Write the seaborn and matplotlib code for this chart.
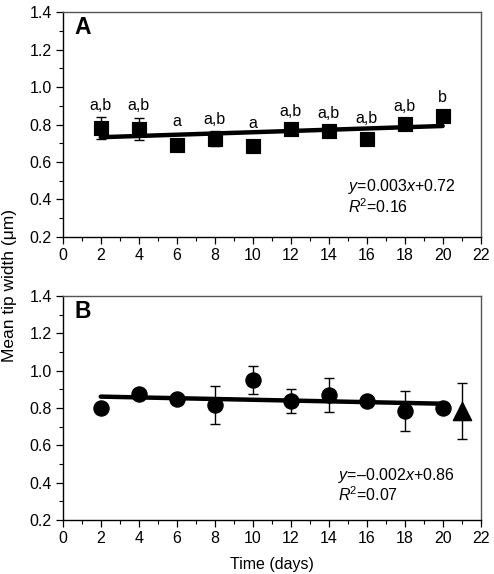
import matplotlib
matplotlib.use("Agg")
import matplotlib.pyplot as plt
import seaborn as sns
import numpy as np
import pandas as pd
from matplotlib.ticker import MultipleLocator

# ---- data ----
days = [2, 4, 6, 8, 10, 12, 14, 16, 18, 20]
width_A = [0.78, 0.775, 0.69, 0.725, 0.685, 0.775, 0.765, 0.725, 0.805, 0.845]
err_A = [0.06, 0.06, 0.0, 0.04, 0.0, 0.0, 0.0, 0.0, 0.0, 0.0]
letters_A = ["a,b", "a,b", "a", "a,b", "a", "a,b", "a,b", "a,b", "a,b", "b"]
fit_x_A = [2, 20]
fit_y_A = [0.732, 0.792]
eq_A = "$\\it{y}$=0.003$\\it{x}$+0.72"
r2_A = "$\\it{R}$$^{2}$=0.16"

width_B = [0.80, 0.873, 0.848, 0.816, 0.95, 0.838, 0.87, 0.84, 0.784, 0.798]
err_B = [0.0, 0.0, 0.0, 0.10, 0.075, 0.063, 0.09, 0.0, 0.105, 0.0]
tri_x = [21]
tri_y = [0.786]
tri_err = [0.15]
fit_x_B = [2, 20]
fit_y_B = [0.861, 0.823]
eq_B = "$\\it{y}$=\u20130.002$\\it{x}$+0.86"
r2_B = "$\\it{R}$$^{2}$=0.07"

xticks = list(range(0, 23, 2))
yticks = [0.2, 0.4, 0.6, 0.8, 1.0, 1.2, 1.4]

# ---- style ----
sns.set_style("ticks")
plt.rcParams["font.family"] = ["Liberation Sans", "DejaVu Sans"]
plt.rcParams["mathtext.fontset"] = "custom"
plt.rcParams["mathtext.rm"] = "Liberation Sans"
plt.rcParams["mathtext.it"] = "Liberation Sans:italic"
plt.rcParams["font.size"] = 11
plt.rcParams["text.color"] = "black"

FS = 11.5

fig = plt.figure(figsize=(4.94, 5.74), dpi=100)
axA = fig.add_axes([0.127, 0.5876, 0.846, 0.391])
axB = fig.add_axes([0.127, 0.0941, 0.846, 0.3902])

dfA = pd.DataFrame({"day": days, "w": width_A})
dfB = pd.DataFrame({"day": days, "w": width_B})

# Panel A
axA.errorbar(days, width_A, yerr=err_A, fmt="none", ecolor="black", elinewidth=1.0, capsize=3.5, capthick=1.0, zorder=2)
sns.lineplot(x=fit_x_A, y=fit_y_A, ax=axA, color="black", linewidth=3.2, zorder=3)
sns.scatterplot(data=dfA, x="day", y="w", ax=axA, marker="s", s=110, color="black", edgecolor="black", zorder=4)
label_off_A = [0.12, 0.125, 0.125, 0.10, 0.122, 0.093, 0.092, 0.108, 0.09, 0.098]
for d, w, lt, off in zip(days, width_A, letters_A, label_off_A):
    axA.text(d, w + off, lt, ha="center", va="center", fontsize=FS, color="black")
axA.text(0.6, 1.318, "A", fontsize=16.5, fontweight="bold", ha="left", va="center", color="black")
axA.text(15.0, 0.47, eq_A, fontsize=FS, ha="left", va="center", color="black")
axA.text(15.0, 0.36, r2_A, fontsize=FS, ha="left", va="center", color="black")

# Panel B
axB.errorbar(days, width_B, yerr=err_B, fmt="none", ecolor="black", elinewidth=1.0, capsize=3.5, capthick=1.0, zorder=2)
axB.errorbar(tri_x, tri_y, yerr=tri_err, fmt="none", ecolor="black", elinewidth=1.0, capsize=3.5, capthick=1.0, zorder=2)
sns.lineplot(x=fit_x_B, y=fit_y_B, ax=axB, color="black", linewidth=3.2, zorder=3)
sns.scatterplot(data=dfB, x="day", y="w", ax=axB, marker="o", s=120, color="black", edgecolor="black", zorder=4)
sns.scatterplot(x=tri_x, y=tri_y, ax=axB, marker="^", s=170, color="black", edgecolor="black", zorder=4)
axB.text(0.6, 1.318, "B", fontsize=16.5, fontweight="bold", ha="left", va="center", color="black")
axB.text(14.5, 0.44, eq_B, fontsize=FS, ha="left", va="center", color="black")
axB.text(14.5, 0.335, r2_B, fontsize=FS, ha="left", va="center", color="black")

for ax in (axA, axB):
    ax.set_xlim(0, 22)
    ax.set_ylim(0.2, 1.4)
    ax.set_xticks(xticks)
    ax.set_yticks(yticks)
    ax.set_yticklabels([f"{v:.1f}" for v in yticks])
    ax.xaxis.set_minor_locator(MultipleLocator(1))
    ax.yaxis.set_minor_locator(MultipleLocator(0.1))
    ax.tick_params(which="major", direction="out", length=5, width=0.9, labelsize=FS, colors="black", pad=3, top=False, right=False)
    ax.tick_params(which="minor", direction="out", length=3, width=0.8, colors="black", top=False, right=False)
    ax.set_xlabel("")
    ax.set_ylabel("")
    for side in ["left", "bottom"]:
        ax.spines[side].set_color("black")
        ax.spines[side].set_linewidth(1.0)
    for side in ["right", "top"]:
        ax.spines[side].set_visible(True)
        ax.spines[side].set_color("#555555")
        ax.spines[side].set_linewidth(1.0)
    leg = ax.get_legend()
    if leg is not None:
        leg.remove()

fig.text(0.019, 0.503, "Mean tip width (\u03bcm)", rotation=90, ha="center", va="center", fontsize=12.5, color="black")
fig.text(0.55, 0.017, "Time (days)", ha="center", va="center", fontsize=FS, color="black")

fig.savefig("out.png", dpi=100)
